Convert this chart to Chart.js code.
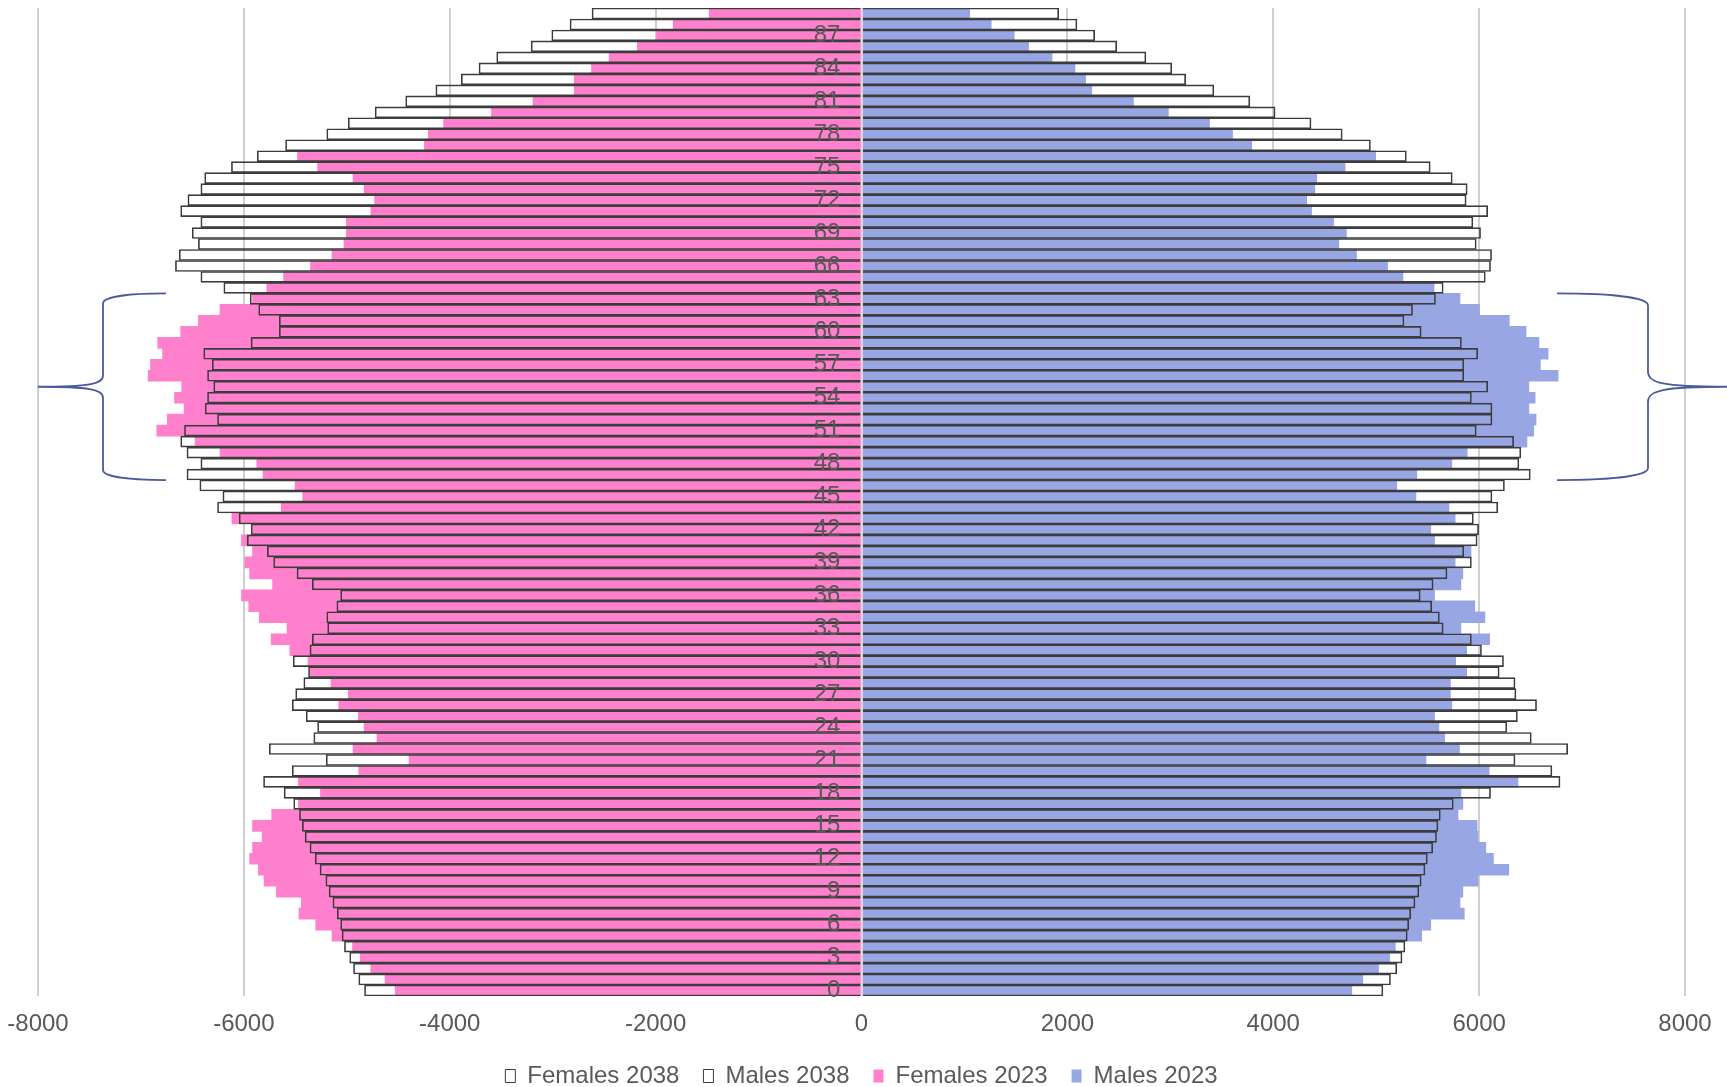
<!DOCTYPE html>
<html>
<head>
<meta charset="utf-8">
<title>Population by single year of age, 2023 and 2038</title>
<script src="https://cdn.jsdelivr.net/npm/chart.js@4.4.1/dist/chart.umd.min.js"></script>
<style>
  html, body { margin: 0; padding: 0; background: #ffffff; }
  #wrap { width: 1727px; height: 1087px; position: relative; }
</style>
</head>
<body>
<div id="wrap"><canvas id="pyramid"></canvas></div>
<script>
// Single years of age, youngest first
const ages = [
  0, 1, 2, 3, 4, 5, 6, 7, 8, 9,
  10, 11, 12, 13, 14, 15, 16, 17, 18, 19,
  20, 21, 22, 23, 24, 25, 26, 27, 28, 29,
  30, 31, 32, 33, 34, 35, 36, 37, 38, 39,
  40, 41, 42, 43, 44, 45, 46, 47, 48, 49,
  50, 51, 52, 53, 54, 55, 56, 57, 58, 59,
  60, 61, 62, 63, 64, 65, 66, 67, 68, 69,
  70, 71, 72, 73, 74, 75, 76, 77, 78, 79,
  80, 81, 82, 83, 84, 85, 86, 87, 88, 89
];

// Ages that carry a label on the axis
const labelledAges = [0, 3, 6, 9, 12, 15, 18, 21, 24, 27, 30, 33, 36, 39, 42,
  45, 48, 51, 54, 57, 60, 63, 66, 69, 72, 75, 78, 81, 84, 87];

// Population counts by age (index = age)
const females2023 = [
  4530, 4628, 4767, 4870, 4944, 5144, 5302, 5465, 5442, 5684,
  5804, 5860, 5944, 5916, 5823, 5916, 5730, 5470, 5256, 5470,
  4884, 4395, 4939, 4707, 4832, 4888, 5079, 4986, 5153, 5358,
  5377, 5553, 5735, 5581, 5851, 5953, 6023, 5721, 5944, 5990,
  5916, 6023, 5920, 6116, 5637, 5428, 5502, 5814, 5874, 6232,
  6474, 6846, 6744, 6581, 6674, 6604, 6930, 6907, 6790, 6837,
  6614, 6442, 6232, 5916, 5777, 5614, 5353, 5144, 5028, 5004,
  5004, 4767, 4730, 4832, 4939, 5284, 5479, 4246, 4209, 4060,
  3595, 3191, 2791, 2791, 2623, 2451, 2177, 1991, 1828, 1479
];

const males2023 = [
  4763, 4870, 5023, 5130, 5186, 5442, 5530, 5856, 5814, 5842,
  5990, 6288, 6139, 6065, 5990, 5981, 5795, 5842, 5823, 6377,
  6097, 5484, 5809, 5665, 5609, 5567, 5735, 5721, 5721, 5879,
  5772, 5879, 6102, 5823, 6056, 5958, 5567, 5823, 5842, 5767,
  5921, 5567, 5530, 5767, 5707, 5386, 5200, 5395, 5735, 5884,
  6465, 6530, 6553, 6483, 6544, 6483, 6767, 6595, 6670, 6581,
  6456, 6293, 6004, 5814, 5563, 5260, 5111, 4809, 4637, 4711,
  4586, 4372, 4325, 4404, 4423, 4698, 4995, 3791, 3605, 3381,
  2981, 2642, 2237, 2177, 2074, 1851, 1623, 1484, 1260, 1051
];

const females2038 = [
  4828, 4884, 4935, 4972, 5023, 5046, 5060, 5093, 5135, 5172,
  5204, 5260, 5307, 5358, 5405, 5432, 5460, 5516, 5609, 5809,
  5530, 5200, 5753, 5321, 5284, 5395, 5530, 5497, 5418, 5372,
  5521, 5358, 5335, 5186, 5195, 5097, 5060, 5335, 5484, 5711,
  5772, 5967, 5930, 6046, 6256, 6204, 6428, 6553, 6418, 6553,
  6614, 6577, 6256, 6376, 6353, 6293, 6353, 6307, 6390, 5930,
  5656, 5656, 5856, 5939, 6195, 6418, 6665, 6628, 6442, 6502,
  6418, 6614, 6544, 6418, 6381, 6121, 5870, 5595, 5195, 4986,
  4725, 4428, 4135, 3888, 3716, 3544, 3209, 3009, 2832, 2618
];

const males2038 = [
  5065, 5139, 5200, 5251, 5279, 5302, 5316, 5335, 5377, 5414,
  5437, 5474, 5497, 5549, 5586, 5600, 5623, 5749, 6111, 6786,
  6707, 6349, 6860, 6507, 6269, 6372, 6558, 6358, 6349, 6195,
  6237, 6023, 5925, 5651, 5614, 5539, 5428, 5553, 5688, 5925,
  5851, 5981, 5995, 5944, 6181, 6125, 6246, 6497, 6386, 6405,
  6335, 5972, 6125, 6125, 5925, 6083, 5851, 5851, 5986, 5828,
  5437, 5270, 5353, 5576, 5651, 6060, 6111, 6121, 5972, 6014,
  5939, 6083, 5874, 5884, 5739, 5525, 5293, 4944, 4670, 4367,
  4018, 3772, 3423, 3149, 3014, 2763, 2479, 2265, 2093, 1916
];

// Value axis ticks
const valueTicks = [-8000, -6000, -4000, -2000, 0, 2000, 4000, 6000, 8000];

// Age band marked with braces on both sides
const bracketAges = [47, 63];

const PINK = '#FF80CC';
const BLUE = '#98A6E3';
const OUTLINE = '#3c3c3c';
const TEXT = '#595959';
const BRACE = '#4B5A9C';

Chart.defaults.font.family = "'Liberation Sans', Arial, sans-serif";
Chart.defaults.font.size = 24;
Chart.defaults.color = TEXT;

// Light vertical line over the bars at zero
const zeroLine = {
  id: 'zeroLine',
  afterDatasetsDraw(chart) {
    const { ctx, chartArea, scales: { x } } = chart;
    const px = Math.round(x.getPixelForValue(0));
    ctx.save();
    ctx.strokeStyle = '#d9d9d9';
    ctx.lineWidth = 2;
    ctx.beginPath();
    ctx.moveTo(px, chartArea.top);
    ctx.lineTo(px, chartArea.bottom);
    ctx.stroke();
    ctx.restore();
  }
};

// Curly braces bracketing an age band
function drawBrace(ctx, xTip, xSpine, xEnd, yTop, yBot, armDrop, midR) {
  const ym = (yTop + yBot) / 2;
  const d = Math.sign(xEnd - xSpine);
  const t = Math.sign(xTip - xSpine);
  ctx.beginPath();
  ctx.moveTo(xEnd, yTop);
  ctx.bezierCurveTo(xSpine + d * Math.abs(xEnd - xSpine) * 0.45, yTop,
                    xSpine, yTop + armDrop * 0.3, xSpine, yTop + armDrop);
  ctx.lineTo(xSpine, ym - midR);
  ctx.bezierCurveTo(xSpine, ym - midR * 0.25, xSpine + t * 14, ym, xTip, ym);
  ctx.bezierCurveTo(xSpine + t * 14, ym, xSpine, ym + midR * 0.25, xSpine, ym + midR);
  ctx.lineTo(xSpine, yBot - armDrop);
  ctx.bezierCurveTo(xSpine, yBot - armDrop * 0.3,
                    xSpine + d * Math.abs(xEnd - xSpine) * 0.45, yBot, xEnd, yBot);
  ctx.stroke();
}

const braces = {
  id: 'braces',
  afterDraw(chart) {
    const { ctx, width, scales: { x, y } } = chart;
    const half = Math.abs(y.getPixelForValue(1) - y.getPixelForValue(0)) / 2;
    const yTop = y.getPixelForValue(ages.indexOf(bracketAges[1])) - half;
    const yBot = y.getPixelForValue(ages.indexOf(bracketAges[0])) + half;
    const leftTip = x.getPixelForValue(x.min);
    ctx.save();
    ctx.strokeStyle = BRACE;
    ctx.lineWidth = 1.8;
    drawBrace(ctx, leftTip, leftTip + 65, leftTip + 128, yTop, yBot, 10, 11);
    drawBrace(ctx, width, width - 79, width - 170, yTop, yBot, 12, 15);
    ctx.restore();
  }
};

const outlineStyle = {
  backgroundColor: 'rgba(255,255,255,0)',
  borderColor: OUTLINE,
  borderWidth: 1,
  order: 0
};

new Chart(document.getElementById('pyramid'), {
  type: 'bar',
  data: {
    labels: ages,
    datasets: [
      Object.assign({ label: 'Females 2038', data: females2038.map(v => -v) }, outlineStyle),
      Object.assign({ label: 'Males 2038', data: males2038.slice() }, outlineStyle),
      { label: 'Females 2023', data: females2023.map(v => -v), backgroundColor: PINK, borderWidth: 0, order: 1 },
      { label: 'Males 2023', data: males2023.slice(), backgroundColor: BLUE, borderWidth: 0, order: 1 }
    ]
  },
  options: {
    indexAxis: 'y',
    responsive: true,
    maintainAspectRatio: false,
    animation: false,
    grouped: false,
    categoryPercentage: 1.0,
    barPercentage: 1.0,
    layout: { padding: { left: 38, right: 42, top: 8, bottom: -11 } },
    scales: {
      x: {
        type: 'linear',
        min: valueTicks[0],
        max: valueTicks[valueTicks.length - 1],
        afterBuildTicks(scale) { scale.ticks = valueTicks.map(v => ({ value: v })); },
        afterFit(scale) {
          scale.height = 44;
          scale.paddingLeft = 0;
          scale.paddingRight = 0;
        },
        grid: { color: '#cfcfcf', lineWidth: 2, drawTicks: false },
        border: { display: false },
        ticks: { padding: 14, color: TEXT, callback: v => String(v) }
      },
      y: {
        type: 'category',
        reverse: true,
        // age labels sit just left of the zero line
        position: { x: -205 },
        offset: true,
        grid: { display: false },
        border: { display: false },
        afterFit(scale) { scale.paddingTop = 0; scale.paddingBottom = 0; },
        ticks: {
          autoSkip: false,
          padding: 0,
          z: 1,
          color: TEXT,
          callback(value) {
            const age = ages[value];
            return labelledAges.includes(age) ? String(age) : '';
          }
        }
      }
    },
    plugins: {
      legend: {
        position: 'bottom',
        labels: { boxWidth: 10, boxHeight: 13, padding: 24, color: TEXT, font: { size: 24 } }
      },
      tooltip: { enabled: false }
    }
  },
  plugins: [zeroLine, braces]
});
</script>
</body>
</html>
